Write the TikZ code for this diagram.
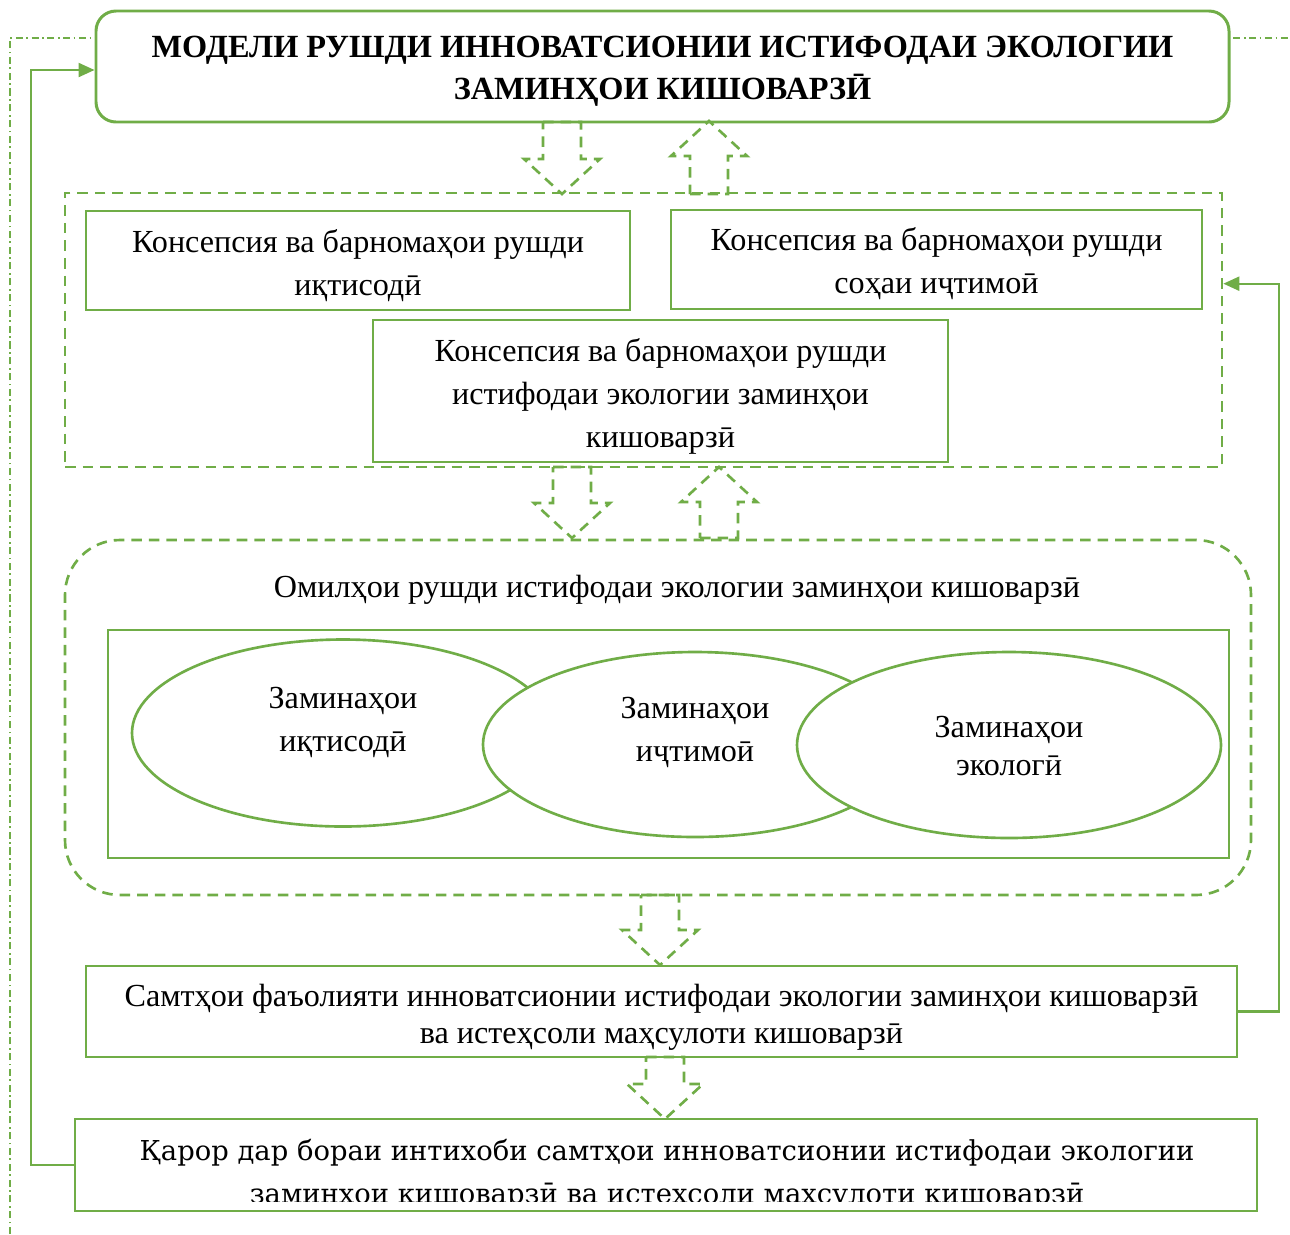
\documentclass[tikz,border=0pt]{standalone}
\usepackage{fontspec}
\setmainfont{Liberation Serif}
\newfontfamily\widefont{DejaVu Serif}
\usetikzlibrary{positioning,arrows.meta,shapes.geometric,calc}
\definecolor{LeafGreen}{RGB}{112,173,71}
\def\px{0.02cm}
% hollow dashed block arrows: centre x, start y, end y
\newcommand{\hollowdown}[3]{%
  \draw[hollow] (#1-19,#2) -- (#1+19,#2) -- (#1+19,#3-35) -- (#1+38,#3-35)
    -- (#1,#3) -- (#1-38,#3-35) -- (#1-19,#3-35) -- cycle;}
\newcommand{\hollowup}[3]{%
  \draw[hollow] (#1-19,#2) -- (#1+19,#2) -- (#1+19,#3+35) -- (#1+38,#3+35)
    -- (#1,#3) -- (#1-38,#3+35) -- (#1-19,#3+35) -- cycle;}

\begin{document}
\begin{tikzpicture}[
    x=\px, y=-\px,
    line width=1.5pt,
    box/.style={
        rectangle, draw=LeafGreen, fill=white,
        inner sep=0pt
    },
    titlebox/.style={
        box, rounded corners=0.4cm, line width=1.7pt
    },
    group/.style={
        rectangle, draw=LeafGreen, dash pattern=on 6pt off 4pt,
        inner sep=0pt
    },
    zone/.style={
        ellipse, draw=LeafGreen, fill=white, inner sep=0pt
    },
    plain/.style={align=center, inner sep=0pt, font=\fontsize{18.3}{24.4}\selectfont},
    hollow/.style={draw=LeafGreen, dash pattern=on 6pt off 4pt, line width=1.5pt},
    feedback/.style={draw=LeafGreen, line width=1.3pt, -{Triangle[length=0.32cm, width=0.28cm]}}
]
\useasboundingbox (0,0) rectangle (1290,1234);

% thin frame behind the title
\draw[LeafGreen, line width=0.6pt, dash pattern=on 4pt off 2pt on 1pt off 2pt]
    (10,1234) -- (10,38) -- (1290,38);

% Title
\node[titlebox, minimum width=1133*\px, minimum height=111*\px] (title) at (662.5,66.5) {};
\node[plain, font=\fontsize{18.4}{23.8}\selectfont\bfseries] (titletext) at ($(title)+(0,5)$)
    {МОДЕЛИ РУШДИ ИННОВАТСИОНИИ ИСТИФОДАИ ЭКОЛОГИИ\\ЗАМИНҲОИ КИШОВАРЗӢ};

% Concepts
\node[group, minimum width=1157*\px, minimum height=274*\px] (concepts) at (643.5,330) {};
\node[box, minimum width=544*\px, minimum height=99*\px] (econ) at (358,260.5) {};
\node[plain] (econtext) at ($(econ)+(0,5)$) {Консепсия ва барномаҳои рушди\\иқтисодӣ};
\node[box, minimum width=531*\px, minimum height=99*\px] (social) at (936.5,259.5) {};
\node[plain] (socialtext) at ($(social)+(0,4.5)$) {Консепсия ва барномаҳои рушди\\соҳаи иҷтимоӣ};
\node[box, minimum width=575*\px, minimum height=142*\px] (landuse) at (660.5,391) {};
\node[plain] (landusetext) at ($(landuse)+(0,5.5)$)
    {Консепсия ва барномаҳои рушди\\истифодаи экологии заминҳои\\кишоварзӣ};

\hollowdown{562}{122}{194}
\hollowup{709}{194}{121}

% Factors
\node[group, rounded corners=1.1cm, minimum width=1186*\px, minimum height=355*\px] (factors) at (658,717.5) {};
\node[plain] (factorstitle) at (677,590)
    {Омилҳои рушди истифодаи экологии заминҳои кишоварзӣ};
\node[box, minimum width=1121*\px, minimum height=228*\px] (bases) at (668.5,744) {};

\node[zone, minimum width=422*\px, minimum height=187*\px] (ellecon) at (343,733) {};
\node[plain] (ellecontext) at (343,722.5) {Заминаҳои\\иқтисодӣ};
\node[zone, minimum width=424*\px, minimum height=185*\px] (ellsocial) at (695,744.5) {};
\node[plain] (ellsocialtext) at (695,732.5) {Заминаҳои\\иҷтимоӣ};
\node[zone, minimum width=424*\px, minimum height=186*\px] (ellecol) at (1009,745) {};
\node[plain, font=\fontsize{18.3}{22.1}\selectfont] (ellecoltext) at (1009,746) {Заминаҳои\\экологӣ};

\hollowdown{572}{467}{538}
\hollowup{719}{538}{467}

% Directions
\node[box, minimum width=1151*\px, minimum height=91*\px] (directions) at (661.5,1011.5) {};
\node[plain, font=\fontsize{18.3}{21}\selectfont] (directionstext) at ($(directions)+(0,6)$)
    {Самтҳои фаъолияти инноватсионии истифодаи экологии заминҳои кишоварзӣ\\ва истеҳсоли маҳсулоти кишоварзӣ};

\hollowdown{660}{895}{965}
\hollowdown{665}{1057}{1119}

% Decision (text cut by the frame)
\node[box, minimum width=1182*\px, minimum height=92*\px] (decision) at (666,1165) {};
\begin{scope}
    \clip ($(decision.north west)+(2,2)$) rectangle ($(decision.south east)+(-2,-11)$);
    \node[plain, font=\widefont\fontsize{15.6}{24.5}\selectfont] (decisiontext) at (667,1174)
        {Қарор дар бораи интихоби самтҳои инноватсионии истифодаи экологии\\заминҳои кишоварзӣ ва истеҳсоли маҳсулоти кишоварзӣ};
\end{scope}

% Feedback lines
\draw[feedback] (decision.west) -- ++(-43,0) |- ($(title.west)+(0,3.5)$);
\draw[feedback] (directions.east) -- ++(41,0) |- ($(concepts.north east)+(0,92)$);

\end{tikzpicture}
\end{document}
